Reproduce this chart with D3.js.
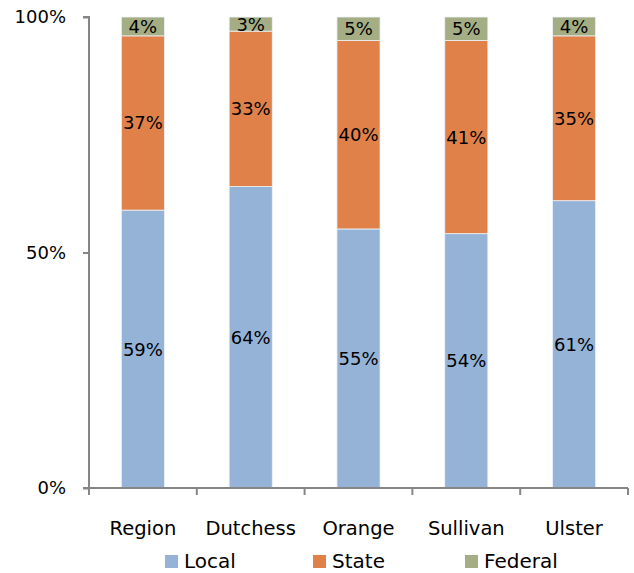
<!DOCTYPE html>
<html>
<head>
<meta charset="utf-8">
<script src="https://cdn.jsdelivr.net/npm/d3@7"></script>
<style>
  html, body { margin: 0; padding: 0; background: #fff; }
  svg text { font-family: "DejaVu Sans", sans-serif; fill: #000; }
</style>
</head>
<body>
<svg id="chart" width="634" height="573"></svg>
<script>
const categories = ["Region", "Dutchess", "Orange", "Sullivan", "Ulster"];
const seriesNames = ["Local", "State", "Federal"];
const local = [59, 64, 55, 54, 61];
const state = [37, 33, 40, 41, 35];
const federal = [4, 3, 5, 5, 4];
const yTicks = [0, 50, 100];
const colors = ["#95B3D7", "#E0814A", "#A5AD84"];

const W = 634, H = 573;
const margin = { top: 17, right: 6, bottom: 85, left: 89 };
const svg = d3.select("#chart");

const x = d3.scaleBand().domain(categories).range([margin.left, W - margin.right]).padding(0);
const y = d3.scaleLinear().domain([0, 100]).range([H - margin.bottom, margin.top]);

const table = categories.map((c, i) => ({ cat: c, Local: local[i], State: state[i], Federal: federal[i] }));
const stack = d3.stack().keys(seriesNames)(table);

const barW = x.bandwidth() * 0.4;

const g = svg.append("g");
stack.forEach((layer, si) => {
  g.selectAll(null).data(layer).enter().append("rect")
    .attr("x", d => x(d.data.cat) + (x.bandwidth() - barW) / 2)
    .attr("y", d => y(d[1]))
    .attr("width", barW)
    .attr("height", d => y(d[0]) - y(d[1]))
    .attr("fill", colors[si])
    .attr("stroke", "#eef3f8")
    .attr("stroke-width", 0.8);
  g.selectAll(null).data(layer).enter().append("text")
    .attr("x", d => x(d.data.cat) + x.bandwidth() / 2)
    .attr("y", d => (y(d[0]) + y(d[1])) / 2)
    .attr("dy", "0.36em")
    .attr("text-anchor", "middle")
    .style("font-size", "18px")
    .text(d => (d[1] - d[0]) + "%");
});

// Y axis
const yAxis = d3.axisLeft(y).tickValues(yTicks).tickFormat(d => d + "%").tickSize(6).tickPadding(17);
const ya = svg.append("g").attr("transform", `translate(${margin.left},0)`).call(yAxis);
ya.select(".domain").attr("stroke", "#868686").attr("stroke-width", 2).attr("d", `M-6,${y(100)}H0V${y(0)}`);
ya.selectAll(".tick line").attr("stroke", "#868686").attr("stroke-width", 2);
ya.selectAll(".tick text").style("font-size", "18px").attr("font-family", null);

// X axis
const xa = svg.append("g").attr("transform", `translate(0,${y(0)})`);
xa.append("line").attr("x1", margin.left - 6).attr("x2", W - margin.right).attr("y1", 0).attr("y2", 0)
  .attr("stroke", "#868686").attr("stroke-width", 2);
const bounds = categories.map(c => x(c)).concat([x(categories[categories.length - 1]) + x.bandwidth()]);
xa.selectAll(null).data(bounds).enter().append("line")
  .attr("x1", d => d).attr("x2", d => d).attr("y1", 0).attr("y2", 7)
  .attr("stroke", "#868686").attr("stroke-width", 2);
xa.selectAll(null).data(categories).enter().append("text")
  .attr("x", d => x(d) + x.bandwidth() / 2)
  .attr("y", 47)
  .attr("text-anchor", "middle")
  .style("font-size", "19.5px")
  .text(d => d);

// Legend
const legendX = [165, 313, 465];
const lg = svg.append("g");
seriesNames.forEach((s, i) => {
  lg.append("rect").attr("x", legendX[i]).attr("y", 555).attr("width", 13).attr("height", 13).attr("fill", colors[i]);
  lg.append("text").attr("x", legendX[i] + 19).attr("y", 568).style("font-size", "20px").text(s);
});
</script>
</body>
</html>
